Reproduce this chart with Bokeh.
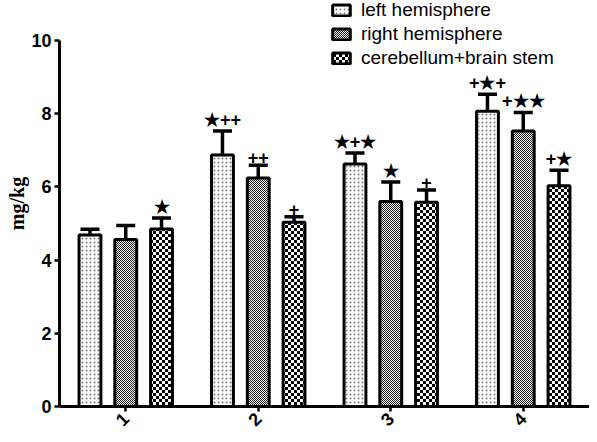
from bokeh.plotting import figure
from bokeh.models import (ColumnDataSource, FactorRange, Whisker, TeeHead, Legend,
                          LegendItem, FixedTicker, ImageURLTexture)
from bokeh.transform import dodge
from bokeh.core.properties import value
from bokeh.embed import file_html
from bokeh.resources import INLINE
import math, zlib, struct, base64

categories = ["1", "2", "3", "4"]
series = ["left hemisphere", "right hemisphere", "cerebellum+brain stem"]

left = [4.68, 6.87, 6.62, 8.06]
left_lo = [4.55, 6.26, 6.34, 7.57]
left_hi = [4.84, 7.52, 6.92, 8.53]
left_note = ["", "★++", "★+★", "+★+"]

right = [4.56, 6.24, 5.60, 7.52]
right_lo = [4.15, 5.93, 5.05, 7.00]
right_hi = [4.94, 6.59, 6.13, 8.03]
right_note = ["", "++", "★", "+★★"]

cereb = [4.85, 5.03, 5.58, 6.03]
cereb_lo = [4.60, 4.90, 5.28, 5.64]
cereb_hi = [5.15, 5.18, 5.91, 6.45]
cereb_note = ["★", "+", "+", "+★"]

y_ticks = [0, 2, 4, 6, 8, 10]


def checker_png(cell, dark):
    """Small checkerboard tile as a PNG data URI (used as a hatch texture)."""
    n = cell * 2
    rows = []
    for yy in range(n):
        row = bytearray([0])
        for xx in range(n):
            on = ((xx // cell) + (yy // cell)) % 2 == 0
            row += bytes(dark + (255,)) if on else bytes((255, 255, 255, 255))
        rows.append(bytes(row))
    raw = b"".join(rows)

    def chunk(tag, data):
        c = tag + data
        return struct.pack(">I", len(data)) + c + struct.pack(">I", zlib.crc32(c) & 0xffffffff)

    png = (b"\x89PNG\r\n\x1a\n"
           + chunk(b"IHDR", struct.pack(">IIBBBBB", n, n, 8, 6, 0, 0, 0))
           + chunk(b"IDAT", zlib.compress(raw))
           + chunk(b"IEND", b""))
    return "data:image/png;base64," + base64.b64encode(png).decode()


p = figure(x_range=FactorRange(*categories), y_range=(0, 11.087),
           width=589, height=434, output_backend="svg", toolbar_location=None,
           min_border_left=59, min_border_top=0, min_border_bottom=26, min_border_right=0)
p.outline_line_color = None
p.xgrid.grid_line_color = None
p.ygrid.grid_line_color = None
p.background_fill_color = "white"

styles = [
    dict(hatch_pattern="dot", hatch_scale=4, hatch_weight=1, hatch_color="#777777"),
    dict(hatch_pattern=value("fine"),
         hatch_extra={"fine": ImageURLTexture(url=checker_png(1, (30, 30, 30)))}),
    dict(hatch_pattern=value("coarse"),
         hatch_extra={"coarse": ImageURLTexture(url=checker_png(3, (0, 0, 0)))}),
]
offsets = [-0.27, 0.0, 0.27]
data = [(left, left_lo, left_hi, left_note),
        (right, right_lo, right_hi, right_note),
        (cereb, cereb_lo, cereb_hi, cereb_note)]

items = []
for i, (vals, lo, hi, note) in enumerate(data):
    src = ColumnDataSource(dict(cat=categories, top=vals, lo=lo, hi=hi, note=note))
    xd = dodge("cat", offsets[i], range=p.x_range)
    r = p.vbar(x=xd, top="top", width=0.165, source=src, fill_color="white",
               line_color="black", line_width=3, **styles[i])
    items.append(LegendItem(label=series[i], renderers=[r]))
    w = Whisker(base=xd, upper="hi", lower="lo", source=src, line_width=3.5,
                line_color="black",
                upper_head=TeeHead(size=19, line_width=3.5, line_color="black"),
                lower_head=TeeHead(size=19, line_width=3.5, line_color="black"))
    p.add_layout(w)
    p.text(x=xd, y="hi", text="note", source=src, text_align="center",
           text_baseline="bottom", y_offset=-1, text_font_size="18px",
           text_font=value("Liberation Sans"), text_font_style="bold", text_color="black")

legend = Legend(items=items, location=(271, 337), orientation="vertical",
                border_line_alpha=0, background_fill_alpha=0, padding=0, margin=0,
                glyph_width=22, glyph_height=14, label_height=22, spacing=2,
                label_standoff=9, label_text_font_size="19px",
                label_text_font="Liberation Sans", label_text_baseline="middle",
                label_text_color="black")
p.add_layout(legend)

for ax in (p.xaxis[0], p.yaxis[0]):
    ax.axis_line_width = 3
    ax.axis_line_color = "black"
    ax.major_tick_line_width = 2.5
    ax.major_tick_line_color = "black"
    ax.major_tick_in = 0
    ax.major_tick_out = 5
    ax.minor_tick_line_color = None
    ax.major_label_text_font = "Liberation Sans"
    ax.major_label_text_font_style = "bold"
    ax.major_label_text_font_size = "18px"
    ax.major_label_text_color = "black"

p.yaxis.ticker = FixedTicker(ticks=y_ticks)
p.yaxis.bounds = (0, 10)
p.yaxis.major_label_standoff = 3
p.yaxis.axis_label = "mg/kg"
p.yaxis.axis_label_text_font = "Liberation Serif"
p.yaxis.axis_label_text_font_style = "bold"
p.yaxis.axis_label_text_font_size = "20px"
p.yaxis.axis_label_text_color = "black"
p.yaxis.axis_label_standoff = 0
p.xaxis.major_label_orientation = math.pi / 4
p.xaxis.major_label_standoff = 4

open("out.html", "w").write(file_html(p, INLINE))
